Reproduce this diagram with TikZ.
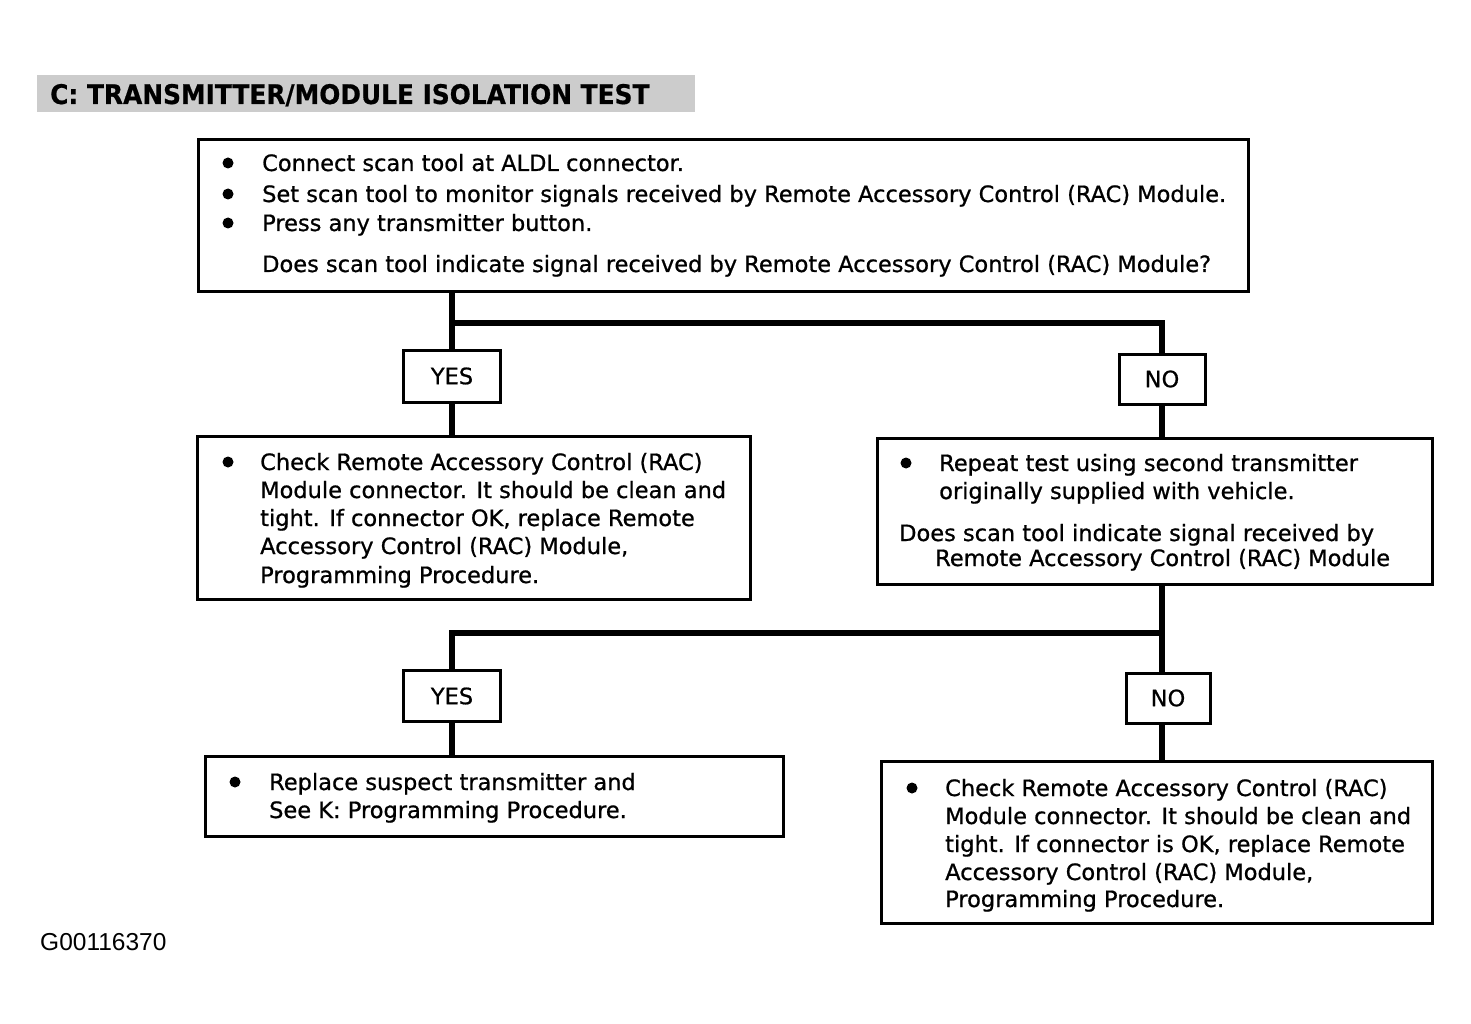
\documentclass[tikz,border=0pt]{standalone}
\usepackage{fontspec}
\setmainfont{DejaVu Sans}
\newfontfamily\bodyf[FakeBold=0.8]{DejaVu Sans}
\newfontfamily\titlef[FakeStretch=0.92,FakeBold=0.6]{DejaVu Sans}
\newfontfamily\footf{Liberation Sans}
\begin{document}
\begin{tikzpicture}[x=1pt,y=-1pt,
  box/.style={draw, line width=3pt, rectangle, inner sep=0pt, anchor=north west},
  lbl/.style={draw, line width=3pt, rectangle, inner sep=0pt, font=\bodyf\fontsize{22.5}{27}\selectfont},
  txt/.style={anchor=base west, inner sep=0pt, font=\bodyf\fontsize{22.5}{27}\selectfont},
  bul/.style={circle, fill, inner sep=0pt, minimum size=11pt},
  conn/.style={line width=5.5pt}]
\useasboundingbox (0,0) rectangle (1471,1024);
\fill[white] (0,0) rectangle (1471,1024);
% title
\node[fill=black!20, minimum width=658pt, minimum height=37pt, anchor=north west, inner sep=0pt] (titlebg) at (37,75) {};
\node[anchor=base west, inner sep=0pt, font=\titlef\bfseries\fontsize{27}{30}\selectfont] (title) at (50,104) {C: TRANSMITTER/MODULE ISOLATION TEST};
% boxes
\node[box, minimum width=1050pt, minimum height=152pt] (b1) at (197,138) {};
\node[box, minimum width=553pt, minimum height=163pt] (b2) at (196,435) {};
\node[box, minimum width=555pt, minimum height=146pt] (b3) at (876,437) {};
\node[box, minimum width=578pt, minimum height=80pt] (b4) at (204,755) {};
\node[box, minimum width=551pt, minimum height=162pt] (b5) at (880,760) {};
% yes/no labels
\node[lbl, minimum width=97pt, minimum height=52pt] (yes1) at (452,376) {YES};
\node[lbl, minimum width=86pt, minimum height=50pt] (no1) at (1162,379) {NO};
\node[lbl, minimum width=97pt, minimum height=51pt] (yes2) at (452,696) {YES};
\node[lbl, minimum width=84pt, minimum height=50pt] (no2) at (1168,698) {NO};
% junction points
\coordinate (j1) at (452,323);
\coordinate (j2) at (1162,633);
% connectors
\draw[conn] (b1.south -| yes1.north) -- (yes1.north);
\draw[conn] (j1) -| (no1.north);
\draw[conn] (yes1.south) -- (yes1.south |- b2.north);
\draw[conn] (no1.south) -- (no1.south |- b3.north);
\draw[conn] (b3.south -| j2) -- (j2) -| (yes2.north);
\draw[conn] (j2) -- (j2 |- no2.north);
\draw[conn] (yes2.south) -- (yes2.south |- b4.north);
\draw[conn] (j2 |- no2.south) -- (j2 |- b5.north);
% box 1 text
\node[bul] (p1) at (228,163) {};
\node[bul] (p2) at (228,194) {};
\node[bul] (p3) at (228,223) {};
\node[txt] (t1a) at (262,171) {Connect scan tool at ALDL connector.};
\node[txt] (t1b) at (262,202) {Set scan tool to monitor signals received by Remote Accessory Control (RAC) Module.};
\node[txt] (t1c) at (262,231) {Press any transmitter button.};
\node[txt] (t1d) at (262,272) {Does scan tool indicate signal received by Remote Accessory Control (RAC) Module?};
% box 2 text
\node[bul] (p4) at (228,462) {};
\node[txt] (t2a) at (260,470) {Check Remote Accessory Control (RAC)};
\node[txt] (t2b) at (260,498) {Module connector. It should be clean and};
\node[txt] (t2c) at (260,526) {tight. If connector OK, replace Remote};
\node[txt] (t2d) at (260,554) {Accessory Control (RAC) Module,};
\node[txt] (t2e) at (260,583) {Programming Procedure.};
% box 3 text
\node[bul] (p5) at (906,463) {};
\node[txt] (t3a) at (939,471) {Repeat test using second transmitter};
\node[txt] (t3b) at (939,499) {originally supplied with vehicle.};
\node[txt] (t3c) at (899,541) {Does scan tool indicate signal received by};
\node[txt] (t3d) at (935,566) {Remote Accessory Control (RAC) Module};
% box 4 text
\node[bul] (p6) at (235,782) {};
\node[txt] (t4a) at (269,790) {Replace suspect transmitter and};
\node[txt] (t4b) at (269,818) {See K: Programming Procedure.};
% box 5 text
\node[bul] (p7) at (912,788) {};
\node[txt] (t5a) at (945,796) {Check Remote Accessory Control (RAC)};
\node[txt] (t5b) at (945,824) {Module connector. It should be clean and};
\node[txt] (t5c) at (945,852) {tight. If connector is OK, replace Remote};
\node[txt] (t5d) at (945,880) {Accessory Control (RAC) Module,};
\node[txt] (t5e) at (945,907) {Programming Procedure.};
% footer
\node[anchor=base west, inner sep=0pt, font=\footf\fontsize{24.5}{28}\selectfont] (foot) at (40,950) {G00116370};
\end{tikzpicture}
\end{document}
